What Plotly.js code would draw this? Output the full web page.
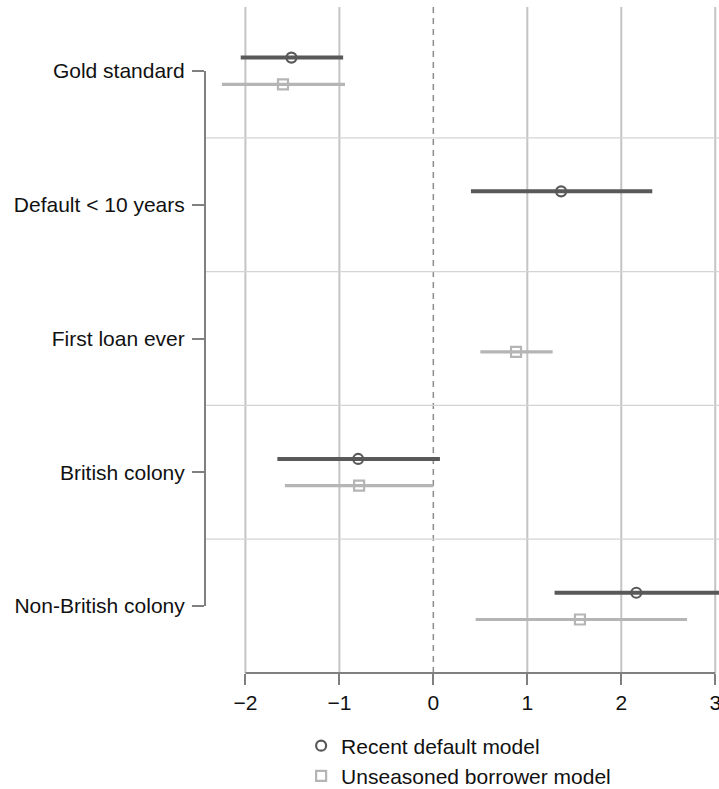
<!DOCTYPE html>
<html>
<head>
<meta charset="utf-8">
<script src="https://cdn.plot.ly/plotly-3.0.1.min.js"></script>
<style>html,body{margin:0;padding:0;background:#fff;}#chart{width:719px;height:789px;}</style>
</head>
<body>
<div id="chart"></div>
<script>
const categories = ["Gold standard", "Default < 10 years", "First loan ever", "British colony", "Non-British colony"];
const recentEst = [-1.51, 1.36, null, -0.80, 2.16];
const recentLo  = [-2.05, 0.40, null, -1.66, 1.29];
const recentHi  = [-0.96, 2.33, null, 0.07, 3.10];
const unseasonedEst = [-1.60, null, 0.88, -0.79, 1.56];
const unseasonedLo  = [-2.25, null, 0.50, -1.58, 0.45];
const unseasonedHi  = [-0.94, null, 1.27, 0.00, 2.70];
const xTicks = [-2, -1, 0, 1, 2, 3];
const seriesNames = ["Recent default model", "Unseasoned borrower model"];

const idx = categories.map((_, i) => i);
function build(est, lo, hi, off) {
  const x = [], y = [], plus = [], minus = [];
  est.forEach((v, i) => {
    if (v === null) return;
    x.push(v); y.push(i + off);
    plus.push(hi[i] - v); minus.push(v - lo[i]);
  });
  return {x, y, plus, minus};
}
const r = build(recentEst, recentLo, recentHi, -0.1);
const u = build(unseasonedEst, unseasonedLo, unseasonedHi, 0.1);

const dark = "#595959", light = "#b5b5b5", axisCol = "#808080";
const traces = [
  {type: "scatter", mode: "markers", name: seriesNames[0], x: r.x, y: r.y,
   marker: {symbol: "circle-open", size: 10, color: dark, line: {width: 2.2, color: dark}},
   error_x: {type: "data", symmetric: false, array: r.plus, arrayminus: r.minus, thickness: 4, width: 0, color: dark}},
  {type: "scatter", mode: "markers", name: seriesNames[1], x: u.x, y: u.y,
   marker: {symbol: "square-open", size: 10, color: light, line: {width: 2.2, color: light}},
   error_x: {type: "data", symmetric: false, array: u.plus, arrayminus: u.minus, thickness: 3.2, width: 0, color: light}}
];

const shapes = [];
xTicks.forEach(t => {
  if (t === 0) {
    shapes.push({type: "line", xref: "x", yref: "paper", x0: t, x1: t, y0: 0, y1: 1.003, layer: "below",
      line: {color: "#8c8c8c", width: 1.5, dash: "6px,5px"}});
  } else {
    shapes.push({type: "line", xref: "x", yref: "paper", x0: t, x1: t, y0: 0, y1: 1, layer: "below",
      line: {color: "#c4c4c4", width: 2}});
  }
});
for (let i = 0; i < categories.length - 1; i++) {
  shapes.push({type: "line", xref: "paper", yref: "y", x0: 0, x1: 1, y0: i + 0.5, y1: i + 0.5, layer: "below",
    line: {color: "#d4d4d4", width: 1.2}});
}
shapes.push({type: "line", xref: "paper", yref: "y", x0: 0, x1: 0, y0: 0, y1: categories.length - 1,
  line: {color: axisCol, width: 2}});
shapes.push({type: "line", xref: "x", yref: "paper", x0: xTicks[0], x1: xTicks[xTicks.length - 1], y0: 0, y1: 0,
  line: {color: axisCol, width: 2}});

const layout = {
  width: 719, height: 789,
  margin: {l: 205, r: 0, t: 7, b: 116, autoexpand: false},
  paper_bgcolor: "#fff", plot_bgcolor: "#fff",
  font: {family: "Liberation Sans, Arial, sans-serif", size: 21, color: "#111"},
  showlegend: true,
  legend: {x: 0.187, xanchor: "left", y: -0.0788, yanchor: "top", font: {size: 21, color: "#111"},
    tracegroupgap: 0, itemwidth: 30, bgcolor: "rgba(0,0,0,0)"},
  xaxis: {range: [-2.43, 3.04], tickvals: xTicks, ticks: "outside", ticklen: 11, tickwidth: 2, tickcolor: axisCol,
    showgrid: false, zeroline: false, showline: false, fixedrange: true, tickfont: {size: 21},
    ticklabeloverflow: "allow"},
  yaxis: {range: [4.5, -0.478], tickvals: idx, ticktext: categories, ticks: "outside", ticklen: 12, tickwidth: 2,
    tickcolor: axisCol, showgrid: false, zeroline: false, showline: false, fixedrange: true, ticklabelstandoff: 3,
    tickfont: {size: 21}},
  shapes: shapes
};
Plotly.newPlot("chart", traces, layout, {displayModeBar: false, staticPlot: true});
</script>
</body>
</html>
